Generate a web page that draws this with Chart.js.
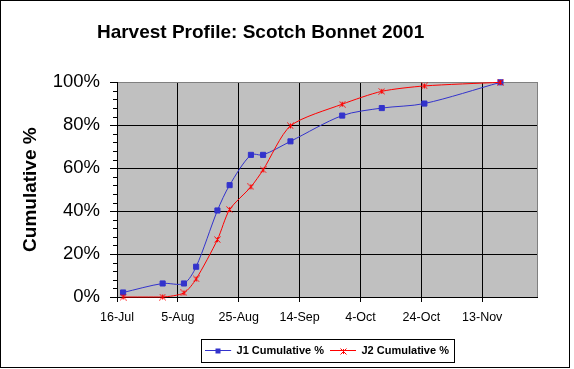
<!DOCTYPE html>
<html>
<head>
<meta charset="utf-8">
<title>Harvest Profile: Scotch Bonnet 2001</title>
<script src="https://cdn.jsdelivr.net/npm/chart.js@4.4.1/dist/chart.umd.min.js"></script>
<style>
  html, body { margin: 0; padding: 0; background: #fff; }
  canvas { display: block; }
</style>
</head>
<body>
<canvas id="harvestChart" width="574" height="369"></canvas>
<script>
// picking dates (day-Month, 2001)
const harvestDates = ['18-Jul', '31-Jul', '7-Aug', '11-Aug', '18-Aug', '22-Aug', '29-Aug',
                      '2-Sep', '11-Sep', '28-Sep', '11-Oct', '25-Oct', '19-Nov'];

// cumulative harvest, percent
const j1Cumulative = [2.1, 6.3, 6.3, 14.1, 40.3, 52.1, 66.2, 66.2, 72.5, 84.5, 88.0, 90.1, 100];
const j2Cumulative = [0, 0, 1.9, 8.4, 26.7, 40.7, 51.3, 59.2, 79.7, 89.8, 95.8, 98.3, 100];

// x axis runs from 16-Jul to 1-Dec, labels every 20 days
const axisStart = '16-Jul';
const axisEnd = '1-Dec';
const xTickLabels = ['16-Jul', '5-Aug', '25-Aug', '14-Sep', '4-Oct', '24-Oct', '13-Nov'];
const yTickValues = [0, 20, 40, 60, 80, 100];

const months = {Jul: 6, Aug: 7, Sep: 8, Oct: 9, Nov: 10, Dec: 11};
function dayOffset(label) {
    const parts = label.split('-');
    const start = axisStart.split('-');
    return (Date.UTC(2001, months[parts[1]], +parts[0]) - Date.UTC(2001, months[start[1]], +start[0])) / 86400000;
}

function toPoints(values) {
    return harvestDates.map((d, i) => ({x: dayOffset(d), y: values[i]}));
}

// Excel style "star" marker: an x with a vertical bar
const starMarker = document.createElement('canvas');
starMarker.width = 7;
starMarker.height = 7;
(function () {
    const c = starMarker.getContext('2d');
    c.strokeStyle = '#FF0000';
    c.lineWidth = 1;
    c.beginPath();
    c.moveTo(0.5, 0.5); c.lineTo(6.5, 6.5);
    c.moveTo(6.5, 0.5); c.lineTo(0.5, 6.5);
    c.moveTo(3.5, 1); c.lineTo(3.5, 6);
    c.stroke();
})();

// background, plot frame, minor ticks and the boxed legend with line+marker samples
const excelLook = {
    id: 'excelLook',
    beforeDraw(chart) {
        const {ctx, chartArea: a} = chart;
        ctx.save();
        ctx.fillStyle = '#fff';
        ctx.fillRect(0, 0, chart.width, chart.height);
        ctx.strokeStyle = '#000';
        ctx.lineWidth = 1;
        ctx.strokeRect(0.5, 0.5, 569, 367);
        ctx.fillStyle = '#C0C0C0';
        ctx.fillRect(a.left, a.top, a.right - a.left, a.bottom - a.top);
        ctx.restore();
    },
    beforeDatasetsDraw(chart) {
        const {ctx, chartArea: a, scales} = chart;
        ctx.save();
        ctx.lineWidth = 1;
        // gray right edge of plot area
        ctx.strokeStyle = '#808080';
        const rx = Math.round(a.right) + 0.5;
        ctx.beginPath();
        ctx.moveTo(rx, Math.round(a.top));
        ctx.lineTo(rx, Math.round(a.bottom));
        ctx.stroke();
        // minor ticks on value axis
        ctx.strokeStyle = '#000';
        const lx = Math.round(a.left);
        ctx.beginPath();
        for (let v = 4; v < 100; v += 4) {
            if (v % 20 === 0) continue;
            const y = Math.round(scales.y.getPixelForValue(v)) + 0.5;
            ctx.moveTo(lx - 4, y);
            ctx.lineTo(lx, y);
        }
        ctx.stroke();
        ctx.restore();
    },
    afterDraw(chart) {
        const {ctx} = chart;
        const lg = chart.legend;
        const boxes = lg.legendHitBoxes;
        const bw = lg.options.labels.boxWidth;
        ctx.save();
        lg.legendItems.forEach((item, i) => {
            const hb = boxes[i];
            const ds = chart.data.datasets[item.datasetIndex];
            const cx = Math.round(hb.left + bw / 2);
            const cy = Math.round(hb.top + hb.height / 2);
            if (ds.pointStyle === 'rect') {
                ctx.fillStyle = ds.pointBackgroundColor;
                ctx.fillRect(cx - 2.5, cy - 2.5, 5, 5);
            } else {
                ctx.drawImage(ds.pointStyle, cx - 3, cy - 3);
            }
        });
        const first = boxes[0];
        const last = boxes[boxes.length - 1];
        const left = Math.round(first.left) - 4;
        const right = Math.round(last.left + last.width) + 5;
        const top = Math.round(first.top) - 6;
        const bottom = Math.round(first.top + first.height) + 6;
        ctx.strokeStyle = '#000';
        ctx.lineWidth = 1;
        ctx.strokeRect(left + 0.5, top + 0.5, right - left, bottom - top);
        ctx.restore();
    }
};

Chart.defaults.font.family = "'Liberation Sans', Arial, sans-serif";
Chart.defaults.color = '#000';

const ctx = document.getElementById('harvestChart');

const harvestChart = new Chart(ctx, {
    type: 'line',
    data: {
        datasets: [{
            label: 'J1 Cumulative %',
            data: toPoints(j1Cumulative),
            borderColor: '#3333CC',
            backgroundColor: '#3333CC',
            borderWidth: 1,
            pointStyle: 'rect',
            pointRadius: 3.6,
            pointBorderWidth: 1,
            pointBackgroundColor: '#3333CC',
            pointBorderColor: '#3333CC',
            tension: 0.3,
            clip: false,
            order: 1
        }, {
            label: 'J2 Cumulative %',
            data: toPoints(j2Cumulative),
            borderColor: '#FF0000',
            backgroundColor: '#FF0000',
            borderWidth: 1,
            pointStyle: starMarker,
            pointRadius: 3.5,
            tension: 0.25,
            clip: false,
            order: 0
        }]
    },
    options: {
        responsive: false,
        animation: false,
        events: [],
        layout: {padding: {left: 0, right: 37, top: 0, bottom: 3}},
        plugins: {
            title: {
                display: true,
                // trailing spaces nudge the centred title left like the original
                text: 'Harvest Profile: Scotch Bonnet 2001   ',
                font: {size: 19, weight: 'bold'},
                color: '#000',
                padding: {top: 21, bottom: 38.5}
            },
            legend: {
                position: 'bottom',
                fullSize: false,
                labels: {
                    boxWidth: 26,
                    boxHeight: 0,
                    padding: 6,
                    font: {size: 11, weight: 'bold'},
                    color: '#000',
                    sort: (a, b) => a.datasetIndex - b.datasetIndex
                }
            },
            tooltip: {enabled: false}
        },
        scales: {
            x: {
                type: 'linear',
                min: 0,
                max: dayOffset(axisEnd),
                afterFit: s => { s.height = 42; },
                border: {color: '#000', width: 1},
                grid: {color: '#000', tickColor: '#000', tickLength: 5, lineWidth: 1},
                ticks: {
                    stepSize: 20,
                    includeBounds: false,
                    autoSkip: false,
                    maxRotation: 0,
                    padding: 8,
                    font: {size: 12.5},
                    callback: v => xTickLabels[v / 20] || ''
                }
            },
            y: {
                min: 0,
                max: 100,
                afterFit: s => { s.width = 117; },
                afterBuildTicks: s => { s.ticks = yTickValues.map(v => ({value: v})); },
                border: {color: '#000', width: 1},
                grid: {
                    color: c => (c.tick && c.tick.value === 100) ? '#808080' : '#000',
                    tickColor: '#000',
                    tickLength: 7,
                    lineWidth: 1
                },
                ticks: {
                    padding: 10,
                    font: {size: 18.5},
                    callback: v => v + '%'
                },
                title: {
                    display: true,
                    text: 'Cumulative %',
                    font: {size: 19, weight: 'bold'},
                    padding: {top: 19, bottom: 0}
                }
            }
        }
    },
    plugins: [excelLook]
});
</script>
</body>
</html>
